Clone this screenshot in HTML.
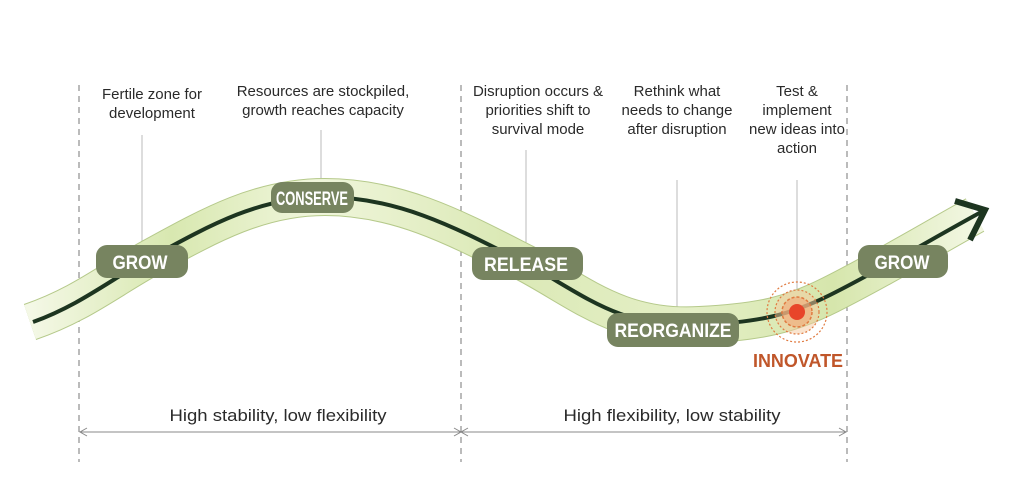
<!DOCTYPE html>
<html><head><meta charset="utf-8"><style>
html,body{margin:0;padding:0;background:#fff;width:1024px;height:501px;overflow:hidden}
svg{display:block}
.t{font-family:"Liberation Sans",sans-serif;font-size:15px;fill:#2a2a2a;text-anchor:middle}
.b{font-family:"Liberation Sans",sans-serif;font-weight:bold;font-size:19px;fill:#fff;text-anchor:middle}
</style></head><body>
<svg width="1024" height="501" viewBox="0 0 1024 501">
<defs>
<linearGradient id="g" x1="0" x2="1" y1="0" y2="0">
<stop offset="0" stop-color="#f4f8e6"/><stop offset="0.15" stop-color="#d8e8b0"/><stop offset="0.3" stop-color="#f0f6dc"/><stop offset="0.5" stop-color="#dbe9b6"/><stop offset="0.7" stop-color="#e4efc6"/><stop offset="0.85" stop-color="#d6e6ac"/><stop offset="1" stop-color="#f2f7e2"/>
</linearGradient>
</defs>
<g stroke="#777" stroke-width="1" stroke-dasharray="6,5">
<line x1="79" y1="85" x2="79" y2="462"/><line x1="461" y1="85" x2="461" y2="462"/><line x1="847" y1="85" x2="847" y2="462"/>
</g>
<g stroke="#bbb" stroke-width="1">
<line x1="142" y1="135" x2="142" y2="250"/><line x1="321" y1="130" x2="321" y2="185"/>
<line x1="526" y1="150" x2="526" y2="250"/><line x1="677" y1="180" x2="677" y2="316"/><line x1="797" y1="180" x2="797" y2="300"/>
</g>
<path d="M30,322 C80,305 110,280 150,258 C210,225 260,197 325,197 C400,197 460,230 525,263 C580,292 620,330 700,325 C760,322 790,315 830,295 C880,270 930,240 975,215" fill="none" stroke="#b5c98a" stroke-width="38"/>
<path d="M30,322 C80,305 110,280 150,258 C210,225 260,197 325,197 C400,197 460,230 525,263 C580,292 620,330 700,325 C760,322 790,315 830,295 C880,270 930,240 975,215" fill="none" stroke="url(#g)" stroke-width="36"/>
<path d="M33,322 C80,305 110,280 150,258 C210,225 260,197 325,197 C400,197 460,230 525,263 C580,292 620,330 700,325 C760,322 790,315 830,295 C880,270 930,240 983,211" fill="none" stroke="#1d3520" stroke-width="4"/>
<path d="M955,201 L985,210 L970,240" fill="none" stroke="#1d3520" stroke-width="6"/>
<circle cx="797" cy="312" r="30" fill="none" stroke="#e07a40" stroke-width="1.2" stroke-dasharray="2,2"/>
<circle cx="797" cy="312" r="22" fill="#f6c9a0" fill-opacity="0.5" stroke="#e07a40" stroke-width="1.2" stroke-dasharray="2,2"/>
<circle cx="797" cy="312" r="15" fill="#f2a878" fill-opacity="0.6" stroke="#e07a40" stroke-width="1.5" stroke-dasharray="3,2"/>
<circle cx="797" cy="312" r="8" fill="#e8452a"/>
<g fill="#778460">
<rect x="96" y="245" width="92" height="33" rx="11"/>
<rect x="271" y="182" width="83" height="31" rx="11"/>
<rect x="472" y="247" width="111" height="33" rx="11"/>
<rect x="607" y="313" width="132" height="34" rx="11"/>
<rect x="858" y="245" width="90" height="33" rx="11"/>
</g>
<text class="b" x="140" y="269" textLength="55" lengthAdjust="spacingAndGlyphs">GROW</text>
<text class="b" x="312" y="205" textLength="72" lengthAdjust="spacingAndGlyphs">CONSERVE</text>
<text class="b" x="526" y="271" textLength="84" lengthAdjust="spacingAndGlyphs">RELEASE</text>
<text class="b" x="673" y="337" textLength="117" lengthAdjust="spacingAndGlyphs">REORGANIZE</text>
<text class="b" x="902" y="269" textLength="55" lengthAdjust="spacingAndGlyphs">GROW</text>
<text class="b" x="798" y="367" style="fill:#c0562a;font-size:18px" textLength="90" lengthAdjust="spacingAndGlyphs">INNOVATE</text>
<text class="t" x="152" y="99">Fertile zone for</text><text class="t" x="152" y="118">development</text>
<text class="t" x="323" y="96">Resources are stockpiled,</text><text class="t" x="323" y="115">growth  reaches capacity</text>
<text class="t" x="538" y="96">Disruption occurs &amp;</text><text class="t" x="538" y="115">priorities shift to</text><text class="t" x="538" y="134">survival mode</text>
<text class="t" x="677" y="96">Rethink what</text><text class="t" x="677" y="115">needs to change</text><text class="t" x="677" y="134">after disruption</text>
<text class="t" x="797" y="96">Test &amp;</text><text class="t" x="797" y="115">implement</text><text class="t" x="797" y="134">new ideas into</text><text class="t" x="797" y="153">action</text>
<g stroke="#888" stroke-width="1" fill="none">
<line x1="80" y1="432" x2="846" y2="432"/>
<path d="M87,428 L80,432 L87,436"/><path d="M454,428 L461,432 L454,436"/><path d="M468,428 L461,432 L468,436"/><path d="M839,428 L846,432 L839,436"/>
</g>
<text class="t" x="278" y="421" style="font-size:17px" textLength="217" lengthAdjust="spacingAndGlyphs">High stability, low flexibility</text>
<text class="t" x="672" y="421" style="font-size:17px" textLength="217" lengthAdjust="spacingAndGlyphs">High flexibility, low stability</text>
</svg>
</body></html>
